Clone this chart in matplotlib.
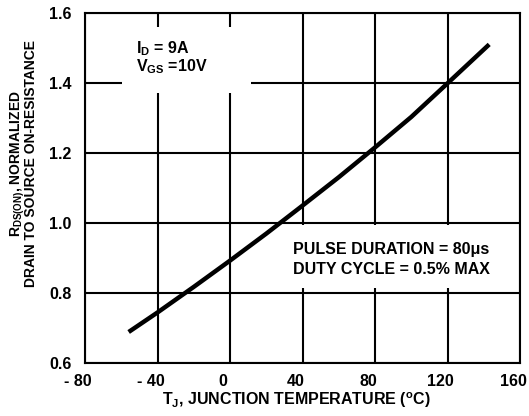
import matplotlib
matplotlib.use("Agg")
import matplotlib.pyplot as plt
from matplotlib.patches import Rectangle
from matplotlib.transforms import ScaledTranslation

plt.rcParams['font.family'] = 'Liberation Sans'
plt.rcParams['font.weight'] = 'bold'
plt.rcParams['mathtext.fontset'] = 'custom'
plt.rcParams['mathtext.rm'] = 'Liberation Sans:bold'
plt.rcParams['mathtext.it'] = 'Liberation Sans:bold'
plt.rcParams['mathtext.bf'] = 'Liberation Sans:bold'

# curve
temp_c = [-56, -40, -20, 0, 20, 40, 60, 80, 100, 120, 143]
rds_norm = [0.689, 0.745, 0.818, 0.893, 0.97, 1.05, 1.131, 1.216, 1.303, 1.399, 1.51]

x_ticks = [-80, -40, 0, 40, 80, 120, 160]
x_tick_labels = ['- 80', '- 40', '0', '40', '80', '120', '160']
y_ticks = [0.6, 0.8, 1.0, 1.2, 1.4, 1.6]
y_tick_labels = ['0.6', '0.8', '1.0', '1.2', '1.4', '1.6']

bold = dict(family='Liberation Sans', weight='bold', size=11.5)
bold_ylab = dict(family='Liberation Sans', weight='bold', size=10)

fig = plt.figure(figsize=(5.29, 4.16), dpi=100)
ax = fig.add_axes([0.161, 0.127, 0.822, 0.842])

ax.set_xlim(-80, 160)
ax.set_ylim(0.6, 1.6)
ax.set_xticks(x_ticks)
ax.set_xticklabels(x_tick_labels, fontdict=bold)
ax.set_yticks(y_ticks)
ax.set_yticklabels(y_tick_labels, fontdict=bold)
ax.tick_params(axis='both', length=0)
ax.tick_params(axis='x', pad=8)
ax.tick_params(axis='y', pad=10)
for lab in ax.get_xticklabels():
    lab.set_transform(lab.get_transform() + ScaledTranslation(-7/100, 0, fig.dpi_scale_trans))

for s in ax.spines.values():
    s.set_linewidth(1.5)
    s.set_color('black')
ax.grid(True, color='black', linewidth=1.5)
ax.set_axisbelow(True)

# white boxes behind the notes (they cut the grid)
ax.add_patch(Rectangle((0.085, 0.77), 0.297, 0.19, transform=ax.transAxes,
                       facecolor='white', edgecolor='none', zorder=1.5))
ax.add_patch(Rectangle((0.46, 0.216), 0.51, 0.178, transform=ax.transAxes,
                       facecolor='white', edgecolor='none', zorder=1.5))

ax.plot(temp_c, rds_norm, color='black', linewidth=3.2, zorder=3,
        solid_capstyle='butt')

ax.text(0.117, 0.926, 'I$_\\mathrm{D}$ = 9A\nV$_\\mathrm{GS}$ =10V', transform=ax.transAxes,
        fontdict=bold, va='top', ha='left', linespacing=0.95, zorder=4)
ax.text(0.478, 0.345, 'PULSE DURATION = 80\u03bcs\nDUTY CYCLE = 0.5% MAX', transform=ax.transAxes,
        fontdict=bold, va='top', ha='left', linespacing=1.37, zorder=4)

ax.set_xlabel(r'T$_\mathrm{J}$, JUNCTION TEMPERATURE ($^\mathrm{o}$C)', fontdict=bold)
ax.xaxis.set_label_coords(0.486, -0.077)

fig.text(0.044, 0.606, 'R$_\\mathrm{DS(ON)}$, NORMALIZED\nDRAIN TO SOURCE ON-RESISTANCE',
         rotation=90, fontdict=bold_ylab, ha='center', va='center',
         multialignment='center', linespacing=0.8)

fig.savefig('out.png', dpi=100)
